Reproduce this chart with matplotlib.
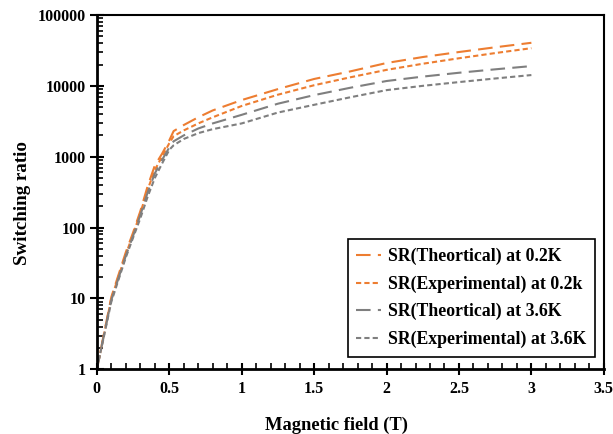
import matplotlib
matplotlib.use("Agg")
import matplotlib.pyplot as plt
from matplotlib.ticker import FuncFormatter, LogLocator, MultipleLocator, NullFormatter

plt.rcParams['font.family'] = ['Liberation Serif', 'DejaVu Serif']
plt.rcParams['font.weight'] = 'bold'

field = [0, 0.1, 0.2, 0.25, 0.3, 0.35, 0.4, 0.45, 0.5, 0.53, 0.6, 0.7, 0.8,
         1.0, 1.25, 1.5, 1.75, 2.0, 2.25, 2.5, 2.75, 3.0]
sr_theo_02 = [1, 10.5, 45, 85, 170, 380, 750, 1100, 1700, 2300, 2800, 3600, 4500,
              6300, 9000, 12500, 16000, 21000, 25500, 30000, 35000, 40500]
sr_exp_02 = [1, 10, 42, 80, 160, 340, 650, 1000, 1550, 1950, 2350, 2950, 3600,
             5200, 7500, 10200, 13200, 16800, 20500, 24500, 29000, 34000]
sr_theo_36 = [1, 9.5, 40, 76, 150, 310, 580, 900, 1350, 1650, 2000, 2500, 2950,
              3900, 5600, 7400, 9400, 11700, 13500, 15300, 17100, 19000]
sr_exp_36 = [1, 9, 38, 72, 135, 270, 500, 800, 1250, 1450, 1780, 2150, 2450,
             2950, 4200, 5400, 6900, 8700, 10000, 11300, 12700, 14200]

labels = ['SR(Theortical) at 0.2K', 'SR(Experimental) at 0.2k',
          'SR(Theortical) at 3.6K', 'SR(Experimental) at 3.6K']
orange = '#ED7D31'
gray = '#7F7F7F'

fig = plt.figure(figsize=(6.13, 4.34), dpi=100)
ax = fig.add_axes([0.158, 0.149, 0.827, 0.8165])

ax.plot(field, sr_theo_02, color=orange, lw=1.5, dashes=(7, 3.5), label=labels[0])
ax.plot(field, sr_exp_02, color=orange, lw=1.5, dashes=(2.5, 1.5), label=labels[1])
ax.plot(field, sr_theo_36, color=gray, lw=1.5, dashes=(7, 3.5), label=labels[2])
ax.plot(field, sr_exp_36, color=gray, lw=1.5, dashes=(2.5, 1.5), label=labels[3])

ax.set_yscale('log')
ax.set_xlim(0, 3.5)
ax.set_ylim(1, 100000)

ax.xaxis.set_major_locator(MultipleLocator(0.5))
ax.xaxis.set_minor_locator(MultipleLocator(0.1))
ax.xaxis.set_major_formatter(FuncFormatter(lambda v, p: ('%g' % v)))
ax.yaxis.set_major_locator(LogLocator(base=10, numticks=10))
ax.yaxis.set_minor_locator(LogLocator(base=10, subs=range(2, 10), numticks=20))
ax.yaxis.set_major_formatter(FuncFormatter(lambda v, p: '%d' % round(v)))
ax.yaxis.set_minor_formatter(NullFormatter())

ax.tick_params(axis='x', which='major', direction='inout', length=9, width=1.5, labelsize=11.5, pad=4)
ax.tick_params(axis='x', which='minor', direction='in', length=4, width=1.2)
ax.tick_params(axis='y', which='major', direction='inout', length=10, width=1.5, labelsize=11.5, pad=3)
ax.tick_params(axis='y', which='minor', direction='in', length=4, width=1.2)
for lab in ax.get_xticklabels() + ax.get_yticklabels():
    lab.set_fontweight('bold')

for s in ax.spines.values():
    s.set_linewidth(1.5)
ax.spines['bottom'].set_linewidth(2)
ax.spines['left'].set_linewidth(2)

xl = ax.set_xlabel('Magnetic field (T)', fontsize=13.3, fontweight='bold')
yl = ax.set_ylabel('Switching ratio', fontsize=13.7, fontweight='bold')
ax.xaxis.set_label_coords(0.472, -0.157)
xl.set_va('center')
ax.yaxis.set_label_coords(-0.146, 0.470)
yl.set_va('center')

leg = ax.legend(loc='lower right', bbox_to_anchor=(0.982, 0.035), borderaxespad=0,
                fontsize=12.8, handlelength=1.4, handletextpad=0.35, labelspacing=0.58,
                borderpad=0.5, fancybox=False, framealpha=1, edgecolor='black')
leg.get_frame().set_linewidth(1.2)
for t in leg.get_texts():
    t.set_fontweight('bold')

fig.savefig('out.png', dpi=100)
